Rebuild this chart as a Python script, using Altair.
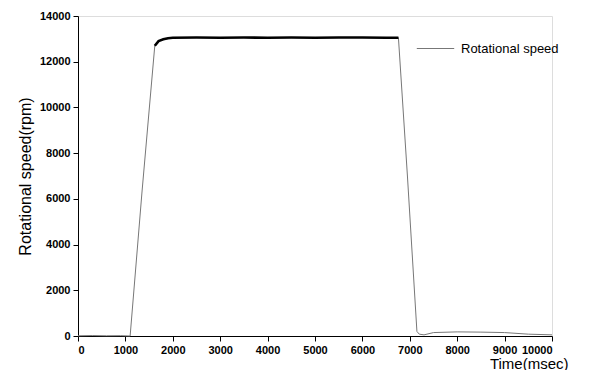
import altair as alt
import pandas as pd

times = [0, 300, 600, 900, 1100, 1350, 1620, 1700, 1800, 1900, 2000, 2500, 3000, 3500,
         4000, 4500, 5000, 5500, 6000, 6500, 6760, 6950, 7150, 7200, 7300, 7500, 8000,
         8500, 9000, 9500, 10000]
speeds = [10, 20, 10, 15, 0, 6300, 12700, 12900, 12980, 13030, 13050, 13060, 13050, 13060,
          13050, 13060, 13050, 13060, 13060, 13050, 13050, 7000, 200, 80, 50, 150, 180,
          170, 150, 80, 50]
series_name = "Rotational speed"
x_ticks = list(range(0, 10001, 500))
y_ticks = list(range(0, 14001, 1000))

df = pd.DataFrame({"t": times, "v": speeds, "series": series_name})

FONT = "Liberation Sans"

x_axis = alt.Axis(
    values=x_ticks,
    labelExpr="datum.value % 1000 === 0 ? datum.label : ''",
    format="d",
    tickSize={"condition": {"test": "datum.value % 1000 === 0", "value": 5}, "value": 3},
    tickColor="black", domainColor="black", labelColor="black",
    labelFont=FONT, labelFontSize=11, labelFontWeight="bold", labelPadding=3,
    grid=False, title="Time(msec)", titleFont=FONT, titleFontSize=15,
    titleFontWeight="normal", titleColor="black",
    titleX=490, titleY=32, titleAlign="right", titleBaseline="alphabetic", titleAngle=0,
)
y_axis = alt.Axis(
    values=y_ticks,
    labelExpr="datum.value % 2000 === 0 ? datum.label : ''",
    format="d",
    tickSize={"condition": {"test": "datum.value % 2000 === 0", "value": 5}, "value": 3},
    tickColor="black", domainColor="black", labelColor="black",
    labelFont=FONT, labelFontSize=11, labelFontWeight="bold", labelPadding=3,
    grid=False, title="Rotational speed(rpm)", titleFont=FONT, titleFontSize=16,
    titleFontWeight="normal", titleColor="black", titlePadding=6,
)

base = alt.Chart(df)

line = base.mark_line(strokeWidth=1).encode(
    x=alt.X("t:Q", scale=alt.Scale(domain=[0, 10000], nice=False), axis=x_axis),
    y=alt.Y("v:Q", scale=alt.Scale(domain=[0, 14000], nice=False), axis=y_axis),
    color=alt.Color(
        "series:N",
        scale=alt.Scale(range=["#777777"]),
        legend=alt.Legend(
            title=None, orient="none", legendX=338, legendY=13,
            symbolType="stroke", symbolSize=1400, symbolStrokeWidth=1,
            symbolStrokeColor="#888888",
            labelFont=FONT, labelFontSize=13, labelColor="black", labelOffset=6,
            labelLimit=200,
        ),
    ),
)

plateau = base.mark_line(strokeWidth=2.6, color="black").encode(
    x="t:Q", y="v:Q"
).transform_filter("datum.t >= 1620 && datum.t <= 6760")

chart = alt.layer(line, plateau).properties(
    width=474, height=320,
    autosize=alt.AutoSizeParams(type="none"),
    padding={"left": 70, "top": 8, "right": 37, "bottom": 34},
).configure_view(stroke=None).configure(background="white")

chart.save("out.html", embed_options={"renderer": "svg", "actions": False})
